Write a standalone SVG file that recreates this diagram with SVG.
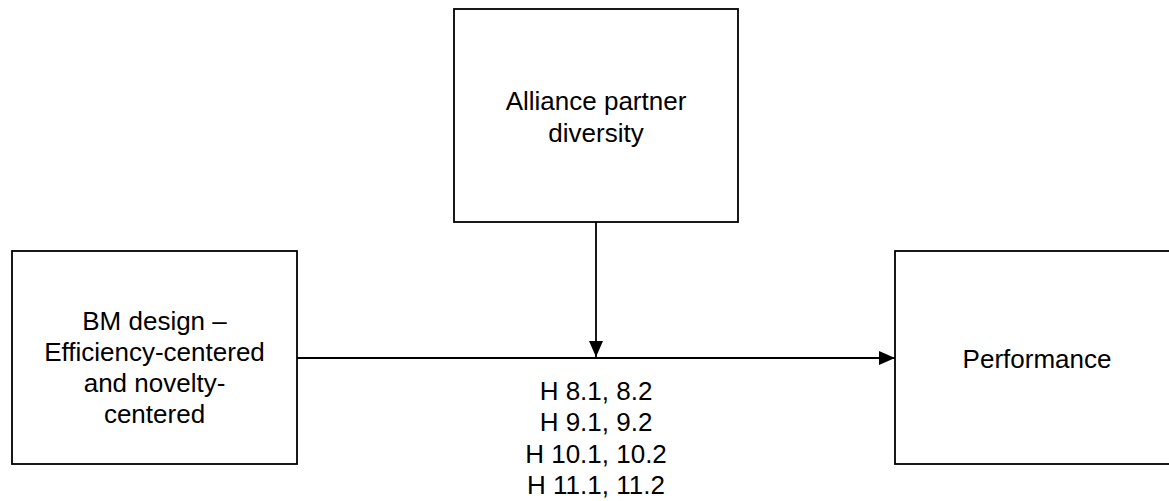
<svg xmlns="http://www.w3.org/2000/svg" width="1169" height="501" viewBox="0 0 1169 501">
<style>
.box{fill:#fff;stroke:#000;stroke-width:1.8}
.t{font-family:"Liberation Sans",Arial,sans-serif;font-size:26px;fill:#000;text-anchor:middle}
.c{stroke:#000;stroke-width:1.8;fill:none}
</style>
<defs>
<marker id="ah" markerWidth="16" markerHeight="14" refX="16" refY="7" orient="auto" markerUnits="userSpaceOnUse">
<path d="M0,0 L16,7 L0,14 Z" fill="#000"/>
</marker>
</defs>
<rect width="1169" height="501" fill="#fff"/>
<g id="alliance">
<rect class="box" x="454" y="9" width="284" height="213"/>
<text class="t" x="596" y="110">Alliance partner</text>
<text class="t" x="596" y="141.5">diversity</text>
</g>
<g id="bm">
<rect class="box" x="12" y="251" width="285" height="213"/>
<text class="t" x="154.5" y="329.5">BM design –</text>
<text class="t" x="154.5" y="361">Efficiency-centered</text>
<text class="t" x="154.5" y="392">and novelty-</text>
<text class="t" x="154.5" y="423">centered</text>
</g>
<g id="performance">
<rect class="box" x="895" y="251" width="285" height="213"/>
<text class="t" x="1037" y="368">Performance</text>
</g>
<g id="connectors">
<line class="c" x1="297" y1="358" x2="895" y2="358" marker-end="url(#ah)"/>
<line class="c" x1="596" y1="222" x2="596" y2="357" marker-end="url(#ah)"/>
</g>
<g id="label">
<text class="t" x="596" y="399.5">H 8.1, 8.2</text>
<text class="t" x="596" y="431">H 9.1, 9.2</text>
<text class="t" x="596" y="462.5">H 10.1, 10.2</text>
<text class="t" x="596" y="494">H 11.1, 11.2</text>
</g>
</svg>
